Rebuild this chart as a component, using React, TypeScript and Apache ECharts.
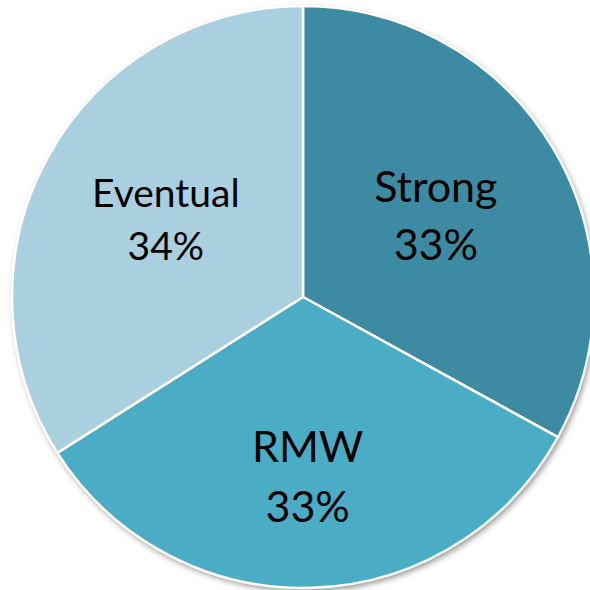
import React, { useEffect, useRef } from "react";
import * as echarts from "echarts";

const categories = ["Strong", "RMW", "Eventual"];
const values = [33, 33, 34];
const colors = ["#3D8BA3", "#4BACC6", "#AACFDE"];
const labelSizes = [43, 43, 39];
const labelLineHeights = [58, 60, 53];
const labelShift = [
  [5, -7],
  [0, 30],
  [-7, -7],
];

export default function App() {
  const ref = useRef<HTMLDivElement>(null);
  useEffect(() => {
    const chart = echarts.init(ref.current!, null, { renderer: "svg" });
    chart.setOption({
      animation: false,
      backgroundColor: "#ffffff",
      series: [
        {
          type: "pie",
          silent: true,
          center: [303, 297],
          radius: 291,
          startAngle: 90,
          clockwise: true,
          label: { show: false },
          labelLine: { show: false },
          data: [
            {
              value: 1,
              itemStyle: {
                color: "#ffffff",
                shadowColor: "rgba(0,0,0,0.45)",
                shadowBlur: 6,
                shadowOffsetX: 2,
                shadowOffsetY: 3,
              },
            },
          ],
        },
        {
          type: "pie",
          center: [303, 297],
          radius: 291,
          startAngle: 90,
          clockwise: true,
          itemStyle: { borderColor: "#ffffff", borderWidth: 2.5 },
          label: {
            show: true,
            position: "inside",
            color: "#000000",
            fontFamily: "Lato, 'Open Sans', sans-serif",
            formatter: (p: any) => `${p.name}\n${Math.round(p.percent)}%`,
          },
          labelLine: { show: false },
          labelLayout: (p: any) => ({
            dx: labelShift[p.dataIndex][0],
            dy: labelShift[p.dataIndex][1],
          }),
          data: categories.map((name, i) => ({
            name,
            value: values[i],
            itemStyle: { color: colors[i] },
            label: { fontSize: labelSizes[i], lineHeight: labelLineHeights[i] },
          })),
        },
      ],
    });
    return () => chart.dispose();
  }, []);
  return (
    <div
      ref={ref}
      style={{ position: "fixed", left: 0, top: 0, width: 590, height: 590, background: "#fff" }}
    />
  );
}
